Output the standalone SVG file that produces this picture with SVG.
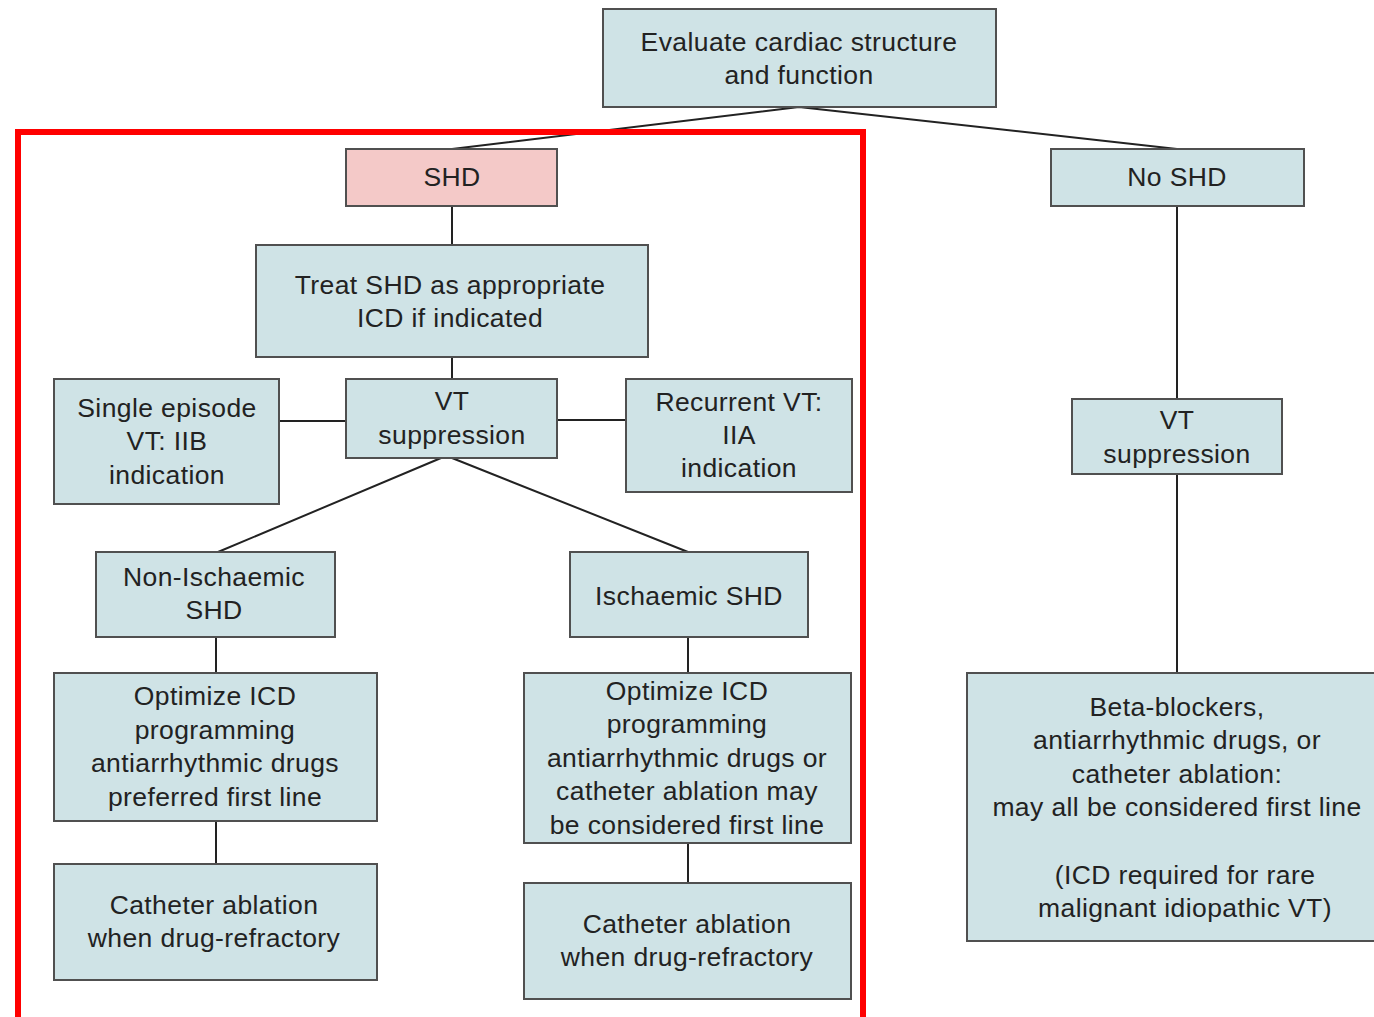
<svg xmlns="http://www.w3.org/2000/svg" width="1374" height="1017" viewBox="0 0 1374 1017">
<style>
.box{fill:#cfe3e6;stroke:#505050;stroke-width:2}
.pink{fill:#f4c9c8;stroke:#505050;stroke-width:2}
.t{font-family:"Liberation Sans",Arial,sans-serif;font-size:26.5px;letter-spacing:0.4px;fill:#222;text-anchor:middle}
.c{stroke:#222;stroke-width:2;fill:none}
</style>
<rect width="1374" height="1017" fill="#fff"/>
<g id="connectors">
<path class="c" d="M799,107 L452,149 M799,107 L1177,149"/>
<path class="c" d="M452,206 V245 M452,357 V379 M346,421 H279 M557,420 H626"/>
<path class="c" d="M441,458 L218,552 M452,458 L688,552"/>
<path class="c" d="M216,637 V673 M216,821 V864 M688,637 V673 M688,843 V883"/>
<path class="c" d="M1177,206 V399 M1177,474 V673"/>
</g>
<g id="n-evaluate"><rect class="box" x="603" y="9" width="393" height="98"/><text class="t" x="799"><tspan x="799" y="51">Evaluate cardiac structure</tspan><tspan x="799" y="84">and function</tspan></text></g>
<g id="n-shd"><rect class="pink" x="346" y="149" width="211" height="57"/><text class="t" x="452" y="186">SHD</text></g>
<g id="n-noshd"><rect class="box" x="1051" y="149" width="253" height="57"/><text class="t" x="1177" y="186">No SHD</text></g>
<g id="n-treat"><rect class="box" x="256" y="245" width="392" height="112"/><text class="t"><tspan x="450" y="294">Treat SHD as appropriate</tspan><tspan x="450" y="327">ICD if indicated</tspan></text></g>
<g id="n-vt-left"><rect class="box" x="346" y="379" width="211" height="79"/><text class="t"><tspan x="452" y="410">VT</tspan><tspan x="452" y="444">suppression</tspan></text></g>
<g id="n-single"><rect class="box" x="54" y="379" width="225" height="125"/><text class="t"><tspan x="167" y="417">Single episode</tspan><tspan x="167" y="450">VT: IIB</tspan><tspan x="167" y="484">indication</tspan></text></g>
<g id="n-recurrent"><rect class="box" x="626" y="379" width="226" height="113"/><text class="t"><tspan x="739" y="411">Recurrent VT:</tspan><tspan x="739" y="444">IIA</tspan><tspan x="739" y="477">indication</tspan></text></g>
<g id="n-vt-right"><rect class="box" x="1072" y="399" width="210" height="75"/><text class="t"><tspan x="1177" y="429">VT</tspan><tspan x="1177" y="463">suppression</tspan></text></g>
<g id="n-nonisch"><rect class="box" x="96" y="552" width="239" height="85"/><text class="t"><tspan x="214" y="586">Non-Ischaemic</tspan><tspan x="214" y="619">SHD</tspan></text></g>
<g id="n-isch"><rect class="box" x="570" y="552" width="238" height="85"/><text class="t" x="689" y="605">Ischaemic SHD</text></g>
<g id="n-opt-left"><rect class="box" x="54" y="673" width="323" height="148"/><text class="t"><tspan x="215" y="705">Optimize ICD</tspan><tspan x="215" y="739">programming</tspan><tspan x="215" y="772">antiarrhythmic drugs</tspan><tspan x="215" y="806">preferred first line</tspan></text></g>
<g id="n-opt-right"><rect class="box" x="524" y="673" width="327" height="170"/><text class="t"><tspan x="687" y="700">Optimize ICD</tspan><tspan x="687" y="733">programming</tspan><tspan x="687" y="767">antiarrhythmic drugs or</tspan><tspan x="687" y="800">catheter ablation may</tspan><tspan x="687" y="834">be considered first line</tspan></text></g>
<g id="n-cath-left"><rect class="box" x="54" y="864" width="323" height="116"/><text class="t"><tspan x="214" y="914">Catheter ablation</tspan><tspan x="214" y="947">when drug-refractory</tspan></text></g>
<g id="n-cath-right"><rect class="box" x="524" y="883" width="327" height="116"/><text class="t"><tspan x="687" y="933">Catheter ablation</tspan><tspan x="687" y="966">when drug-refractory</tspan></text></g>
<g id="n-beta"><rect class="box" x="967" y="673" width="412" height="268"/><text class="t"><tspan x="1177" y="716">Beta-blockers,</tspan><tspan x="1177" y="749">antiarrhythmic drugs, or</tspan><tspan x="1177" y="783">catheter ablation:</tspan><tspan x="1177" y="816">may all be considered first line</tspan><tspan x="1185" y="884">(ICD required for rare</tspan><tspan x="1185" y="917">malignant idiopathic VT)</tspan></text></g>
<path d="M18,1020 V132 H863 V1020" fill="none" stroke="#ff0000" stroke-width="6"/>
</svg>
